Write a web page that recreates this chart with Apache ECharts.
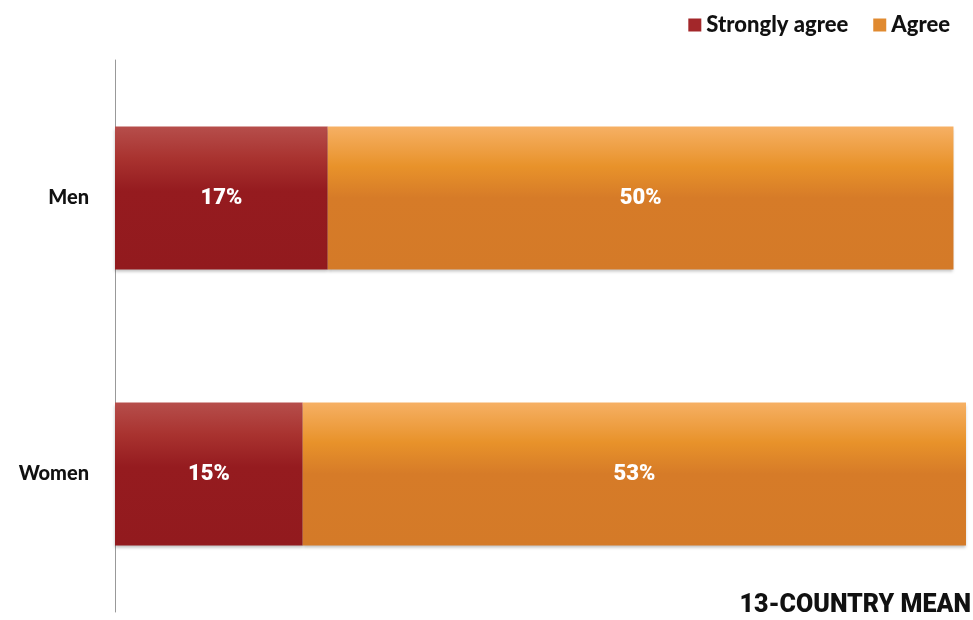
<!DOCTYPE html>
<html>
<head>
<meta charset="utf-8">
<script src="https://cdn.jsdelivr.net/npm/echarts@6/dist/echarts.min.js"></script>
<style>html,body{margin:0;padding:0;background:#fff}#c{width:973px;height:620px}</style>
</head>
<body>
<div id="c"></div>
<script>
const categories = ['Men', 'Women'];
const stronglyAgree = [17, 15];
const agree = [50, 53];
const seriesNames = ['Strongly agree', 'Agree'];
const footnote = '13-COUNTRY MEAN';

const chart = echarts.init(document.getElementById('c'), null, {renderer: 'canvas'});
function grad(stops) {
  return new echarts.graphic.LinearGradient(0, 0, 0, 1, stops.map(s => ({offset: s[0], color: s[1]})));
}
const redGrad = grad([[0, '#b64e4b'], [0.22, '#a93330'], [0.45, '#951b1f'], [1, '#921a1e']]);
const orangeGrad = grad([[0, '#f6b064'], [0.28, '#e8922a'], [0.5, '#d67b28'], [1, '#d47a28']]);
const labelStyle = {show: true, position: 'inside', color: '#fff', fontFamily: 'Roboto', fontWeight: 900, fontSize: 22, formatter: p => p.value + '%'};
const shadow = {shadowColor: 'rgba(0,0,0,0.25)', shadowBlur: 3, shadowOffsetY: 2};
chart.setOption({
  animation: false,
  legend: {
    data: [{name: seriesNames[0], itemStyle: {color: '#a3272a'}}, {name: seriesNames[1], itemStyle: {color: '#e08a30'}}],
    right: 18, top: 9, itemWidth: 13, itemHeight: 13, itemGap: 25, itemStyle: {}, icon: 'rect',
    textStyle: {fontFamily: 'Lato', fontWeight: 900, fontSize: 22, color: '#111'}
  },
  grid: {left: 115, right: 7, top: 60, bottom: 8},
  xAxis: {type: 'value', min: 0, max: 68, show: false},
  yAxis: {
    type: 'category', data: categories, inverse: true,
    axisLine: {show: true, lineStyle: {color: '#999', width: 1}},
    axisTick: {show: false},
    axisLabel: {margin: 26, fontFamily: 'Lato', fontWeight: 900, fontSize: 20, color: '#111'}
  },
  series: [
    {name: seriesNames[0], type: 'bar', stack: 's', barWidth: 143, data: stronglyAgree,
     itemStyle: Object.assign({color: redGrad}, shadow), label: labelStyle},
    {name: seriesNames[1], type: 'bar', stack: 's', barWidth: 143, data: agree,
     itemStyle: Object.assign({color: orangeGrad}, shadow), label: labelStyle}
  ],
  graphic: [{
    type: 'text', right: 2, top: 593,
    style: {text: footnote, fontFamily: 'Roboto', fontWeight: 900, fontSize: 25, fill: '#111'}
  }]
});
</script>
</body>
</html>
